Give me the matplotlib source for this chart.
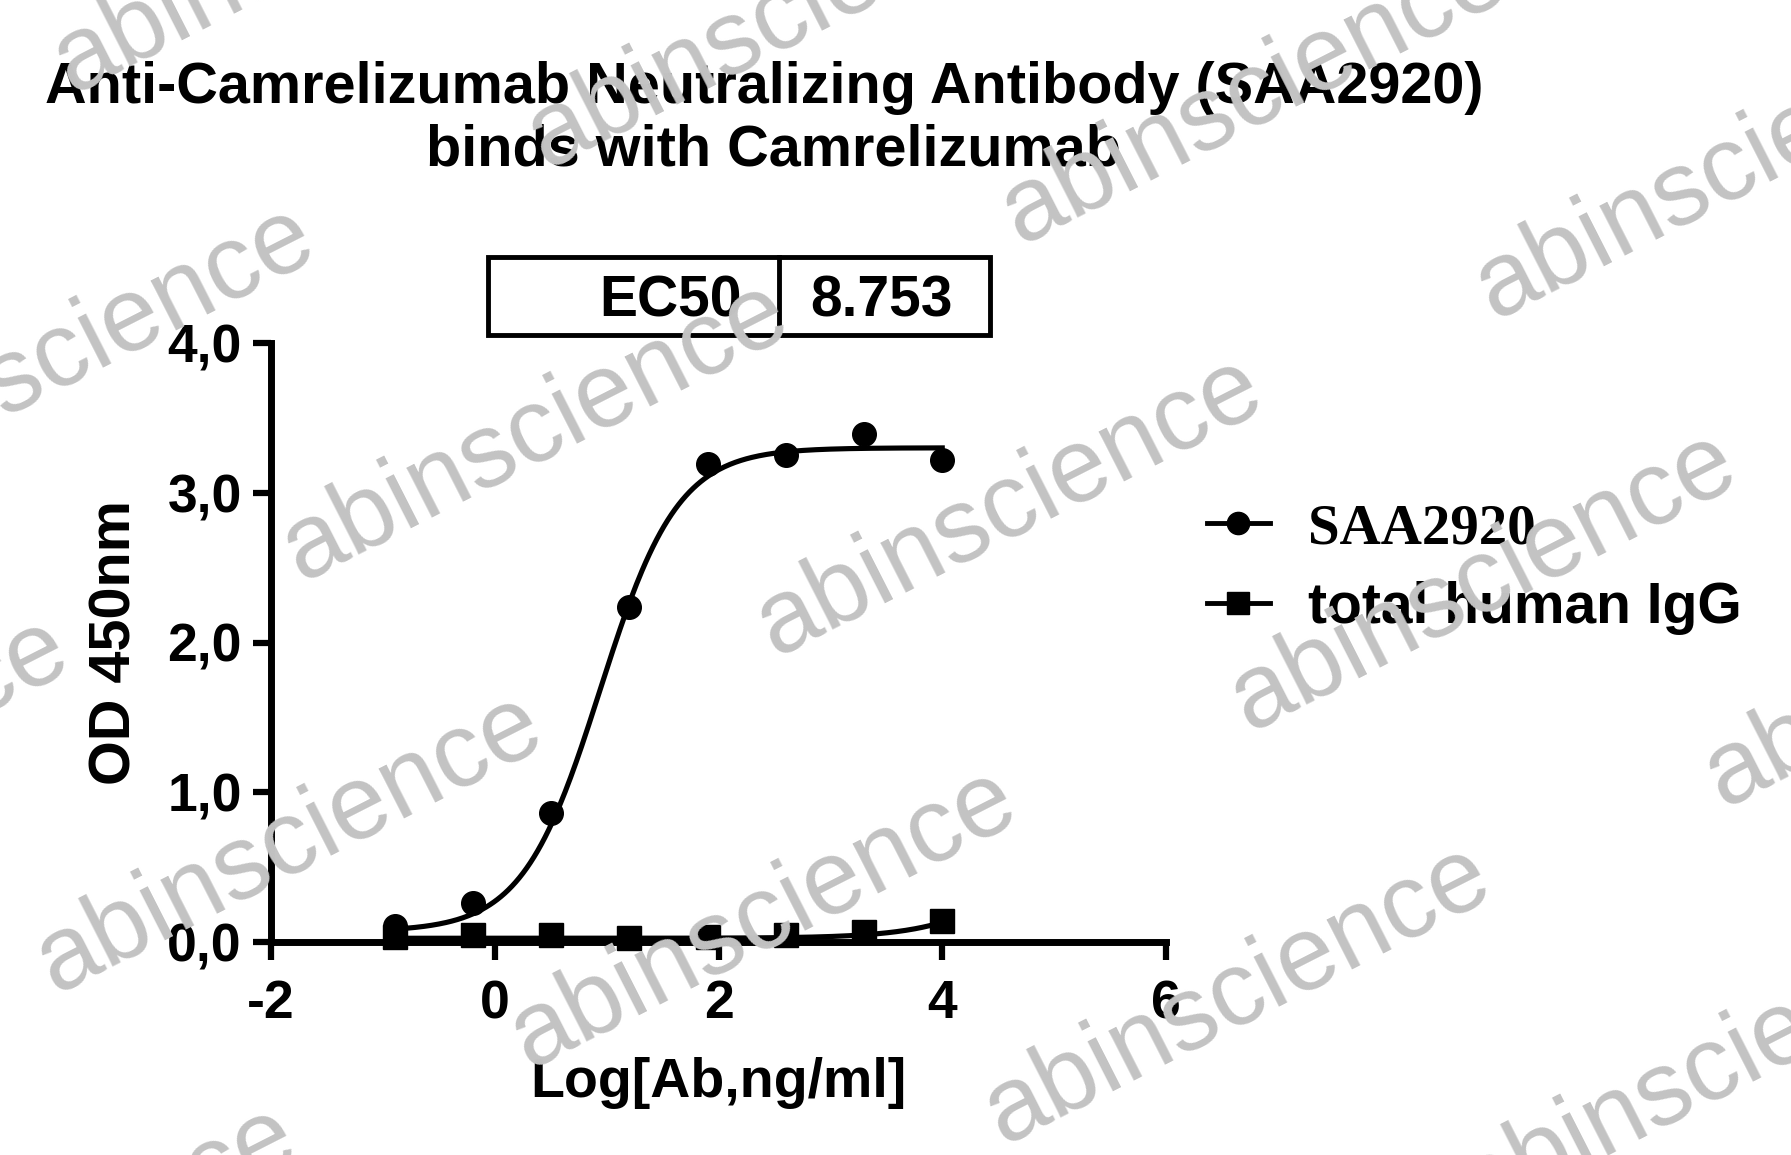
import matplotlib
matplotlib.use("Agg")
import matplotlib.pyplot as plt
import numpy as np
from matplotlib.lines import Line2D
from matplotlib.patches import Rectangle
from matplotlib.ticker import FuncFormatter

# antibody concentration (ng/ml), 5-fold serial dilution
conc = [0.128, 0.64, 3.2, 16, 80, 400, 2000, 10000]
od_saa2920 = [0.11, 0.26, 0.86, 2.24, 3.19, 3.25, 3.39, 3.22]
od_igg = [0.035, 0.045, 0.045, 0.025, 0.035, 0.05, 0.065, 0.14]

ec50 = 8.753
# 4PL fit parameters (bottom, top, logEC50, hill)
fit_saa2920 = (0.07, 3.30, np.log10(ec50), 1.25)
fit_igg = (0.025, 1.2, 5.0, 1.0)

x_ticks = [-2, 0, 2, 4, 6]
y_ticks = [0, 1, 2, 3, 4]

W, H = 1791, 1155
SANS = ['Liberation Sans', 'DejaVu Sans']
plt.rcParams['font.family'] = SANS
plt.rcParams['font.weight'] = 'bold'
plt.rcParams['axes.unicode_minus'] = False


def four_pl(x, bottom, top, logec50, hill):
    return bottom + (top - bottom) / (1 + 10 ** ((logec50 - x) * hill))


def fx(x):
    return x / W


def fy(y):
    return 1 - y / H


fig = plt.figure(figsize=(W / 100, H / 100), dpi=100)
ax = fig.add_axes([fx(271), fy(942), 895 / W, 599 / H])

logc = np.log10(conc)
xs = np.linspace(logc.min(), logc.max(), 300)

ax.plot(xs, four_pl(xs, *fit_saa2920), color='black', lw=3.7, clip_on=False)
ax.plot(xs, four_pl(xs, *fit_igg), color='black', lw=3.7, clip_on=False)
ax.plot(logc, od_saa2920, 'o', color='black', ms=17, clip_on=False)
ax.plot(logc, od_igg, 's', color='black', ms=17, clip_on=False)

ax.set_xlim(-2, 6)
ax.set_ylim(0, 4)
ax.set_xticks(x_ticks)
ax.set_yticks(y_ticks)
ax.yaxis.set_major_formatter(FuncFormatter(lambda v, p: f"{v:.1f}".replace('.', ',')))
for s in ['top', 'right']:
    ax.spines[s].set_visible(False)
for s in ['left', 'bottom']:
    ax.spines[s].set_linewidth(5)
ax.tick_params(direction='out', length=13, width=4.5, labelsize=38.5)
ax.tick_params(axis='y', pad=8)
ax.tick_params(axis='x', pad=14)
ax.set_xlabel('Log[Ab,ng/ml]', fontsize=40, fontweight='bold', labelpad=20)
ax.set_ylabel('OD 450nm', fontsize=41.5, fontweight='bold', labelpad=18)

# title
fig.text(fx(764), fy(103), 'Anti-Camrelizumab Neutralizing Antibody (SAA2920)',
         ha='center', va='baseline', fontsize=41.5, fontweight='bold')
fig.text(fx(773), fy(166), 'binds with Camrelizumab',
         ha='center', va='baseline', fontsize=41.5, fontweight='bold')

# EC50 box
fig.add_artist(Rectangle((fx(488), fy(335)), 502 / W, 78 / H, transform=fig.transFigure,
                         fill=False, ec='black', lw=3.5))
fig.add_artist(Line2D([fx(779), fx(779)], [fy(335), fy(257)], transform=fig.transFigure,
                      color='black', lw=3.5))
fig.text(fx(742), fy(296), 'EC50', ha='right', va='center_baseline', fontsize=41, fontweight='bold')
fig.text(fx(881), fy(296), f'{ec50:.3f}', ha='center', va='center_baseline', fontsize=41, fontweight='bold')

# legend
handles = [Line2D([], [], color='black', lw=3.5, marker='o', ms=16),
           Line2D([], [], color='black', lw=3.5, marker='s', ms=16)]
leg = fig.legend(handles, ['SAA2920', 'total human IgG'], loc='upper left',
                 bbox_to_anchor=(fx(1207), fy(503)), frameon=False, fontsize=41,
                 handlelength=1.1, handletextpad=0.67, labelspacing=0.45,
                 borderpad=0, borderaxespad=0)
for t in leg.get_texts():
    t.set_fontweight('bold')
leg.get_texts()[0].set_family(['Liberation Serif', 'DejaVu Serif'])

# watermark grid
p0 = np.array([55.0, 994.0])
va_ = np.array([474.0, 75.4])
vb_ = np.array([245.6, -412.3])
for i in range(-2, 5):
    for j in range(-2, 4):
        x, y = p0 + i * va_ + j * vb_
        if -700 < x < W + 50 and -300 < y < H + 500:
            fig.text(fx(x), fy(y), 'abinscience', ha='left', va='baseline',
                     rotation=27, rotation_mode='anchor', fontsize=75.5,
                     fontweight='normal', color='#c3c3c3', zorder=10)

fig.savefig('out.png', dpi=100)
